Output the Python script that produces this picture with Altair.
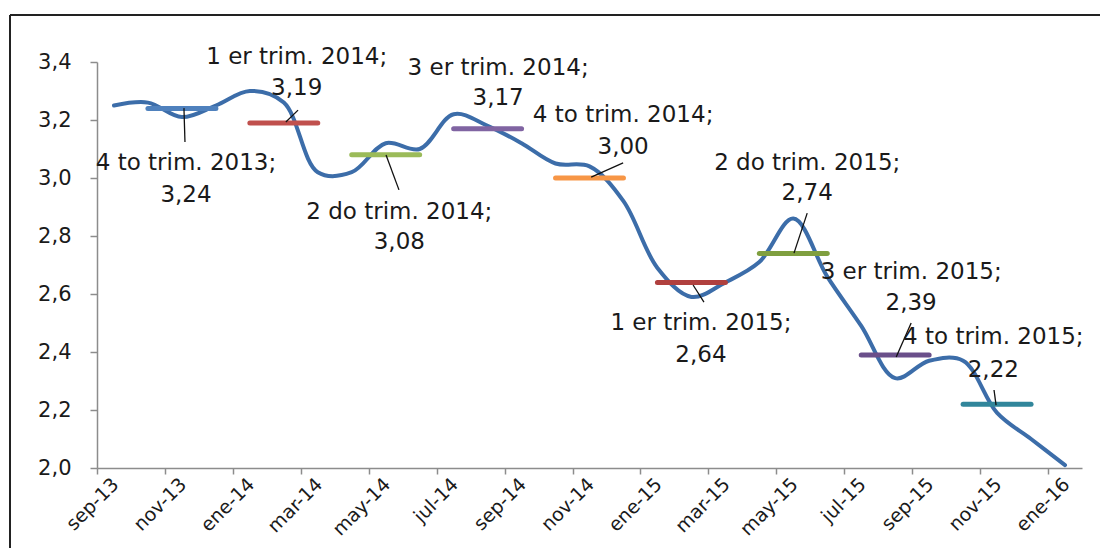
import altair as alt
import pandas as pd

# ---------------- data ----------------
months = ['sep-13', 'oct-13', 'nov-13', 'dic-13', 'ene-14', 'feb-14', 'mar-14',
          'abr-14', 'may-14', 'jun-14', 'jul-14', 'ago-14', 'sep-14', 'oct-14',
          'nov-14', 'dic-14', 'ene-15', 'feb-15', 'mar-15', 'abr-15', 'may-15',
          'jun-15', 'jul-15', 'ago-15', 'sep-15', 'oct-15', 'nov-15', 'dic-15',
          'ene-16']
values = [3.25, 3.26, 3.21, 3.25, 3.30, 3.26, 3.02, 3.02, 3.12, 3.10, 3.22, 3.18,
          3.12, 3.05, 3.04, 2.92, 2.69, 2.59, 2.64, 2.71, 2.86, 2.66, 2.49, 2.31,
          2.37, 2.37, 2.19, 2.10, 2.01]

quarters = ['4 to trim. 2013', '1 er trim. 2014', '2 do trim. 2014', '3 er trim. 2014',
            '4 to trim. 2014', '1 er trim. 2015', '2 do trim. 2015', '3 er trim. 2015',
            '4 to trim. 2015']
quarter_values = [3.24, 3.19, 3.08, 3.17, 3.00, 2.64, 2.74, 2.39, 2.22]
quarter_first_month = ['oct-13', 'ene-14', 'abr-14', 'jul-14', 'oct-14', 'ene-15',
                       'abr-15', 'jul-15', 'oct-15']
quarter_colors = ['#4F81BD', '#C0504D', '#9BBB59', '#8064A2', '#F79646', '#B0403E',
                  '#7F9F3F', '#6A4F8A', '#31869B']

y_ticks = [2.0, 2.2, 2.4, 2.6, 2.8, 3.0, 3.2, 3.4]

# label placement (in data units: month index, value) for each quarter annotation
label_x = [2.12, 5.38, 8.40, 11.31, 14.99, 17.28, 20.41, 23.47, 25.89]
label_y1 = [3.052, 3.417, 2.883, 3.379, 3.217, 2.500, 3.052, 2.676, 2.452]
label_y2 = [2.941, 3.310, 2.779, 3.276, 3.107, 2.390, 2.948, 2.569, 2.338]
leader_x = [2.06, 5.06, 8.01, None, 14.05, 17.05, 20.02, 23.03, 25.97]
leader_x2 = [2.09, 5.42, 8.39, None, 14.99, 17.37, 20.41, 23.47, 25.91]
leader_y = [3.241, 3.193, 3.079, None, 3.003, 2.631, 2.741, 2.383, 2.217]
leader_y2 = [3.124, 3.234, 2.959, None, 3.052, 2.572, 2.879, 2.500, 2.269]

# ---------------- tables ----------------
line_df = pd.DataFrame({'i': list(range(len(months))), 'mes': months, 'valor': values})

seg_rows = []
for q, v, m, c in zip(quarters, quarter_values, quarter_first_month, quarter_colors):
    s = months.index(m)
    seg_rows.append({'trim': q, 'valor': v, 'x0': s, 'x1': s + 2, 'color': c})
seg_df = pd.DataFrame(seg_rows)

lab_rows = []
for q, v, lx, y1, y2 in zip(quarters, quarter_values, label_x, label_y1, label_y2):
    lab_rows.append({'x': lx, 'y': y1, 't': q + ';'})
    lab_rows.append({'x': lx, 'y': y2, 't': ('%.2f' % v).replace('.', ',')})
lab_df = pd.DataFrame(lab_rows)

lead_rows = []
for a, b, c, d in zip(leader_x, leader_x2, leader_y, leader_y2):
    if a is not None:
        lead_rows.append({'x': a, 'x2': b, 'y': c, 'y2': d})
lead_df = pd.DataFrame(lead_rows)

FONT = 'DejaVu Sans'
W, H = 985, 406
PAD_L, PAD_T, PAD_R, PAD_B = 89, 54, 18, 80

label_array = '[' + ','.join("'%s'" % m for m in months) + ']'
x_scale = alt.Scale(domain=[-0.5, len(months) - 0.5], nice=False, zero=False)
y_scale = alt.Scale(domain=[2.0, 3.4], nice=False, zero=False)

x_axis = alt.Axis(
    values=[k - 0.5 for k in range(0, len(months), 2)],
    labelExpr=label_array + '[datum.value + 0.5]',
    labelAngle=-45, labelAlign='right', labelBaseline='middle',
    labelOffset=W / len(months) / 2 + 1, labelPadding=7,
    labelFont=FONT, labelFontSize=19, labelColor='#1a1a1a',
    domainColor='#8c8c8c', domainWidth=1.5, tickColor='#8c8c8c', tickWidth=1.5,
    tickSize=6, title=None, grid=False, labelOverlap=False, labelBound=False,
    labelFlush=False,
)
y_axis = alt.Axis(
    values=y_ticks,
    labelExpr="replace(format(datum.value, '.1f'), '.', ',')",
    labelFont=FONT, labelFontSize=21, labelColor='#1a1a1a', labelPadding=19,
    domainColor='#8c8c8c', domainWidth=1.5, tickColor='#8c8c8c', tickWidth=1.5,
    tickSize=7, title=None, grid=False,
)

base_line = alt.Chart(line_df).mark_line(
    interpolate='catmull-rom', color='#3C6DA9', strokeWidth=4, strokeCap='round'
).encode(
    x=alt.X('i:Q', scale=x_scale, axis=x_axis),
    y=alt.Y('valor:Q', scale=y_scale, axis=y_axis),
)

segments = alt.Chart(seg_df).mark_rule(strokeWidth=5, strokeCap='round').encode(
    x=alt.X('x0:Q', scale=x_scale),
    x2='x1:Q',
    y=alt.Y('valor:Q', scale=y_scale),
    color=alt.Color('color:N', scale=None),
)

leaders = alt.Chart(lead_df).mark_rule(color='#111111', strokeWidth=1.3).encode(
    x=alt.X('x:Q', scale=x_scale), x2='x2:Q',
    y=alt.Y('y:Q', scale=y_scale), y2='y2:Q',
)

labels = alt.Chart(lab_df).mark_text(
    font=FONT, fontSize=23, color='#1a1a1a', align='center', baseline='middle'
).encode(
    x=alt.X('x:Q', scale=x_scale),
    y=alt.Y('y:Q', scale=y_scale),
    text='t:N',
)

frame_top = alt.Chart(pd.DataFrame({'k': [0]})).mark_rule(color='#222222', strokeWidth=2).encode(
    x=alt.value(10 - 8 - PAD_L), x2=alt.value(W + PAD_R), y=alt.value(15 - 8 - PAD_T)
)
frame_left = alt.Chart(pd.DataFrame({'k': [0]})).mark_rule(color='#222222', strokeWidth=2).encode(
    x=alt.value(10 - 8 - PAD_L), y=alt.value(15 - 8 - PAD_T), y2=alt.value(H + PAD_B)
)

chart = alt.layer(frame_top, frame_left, base_line, segments, leaders, labels).properties(
    width=W, height=H,
    autosize=alt.AutoSizeParams(type='none'),
    padding={'left': PAD_L, 'top': PAD_T, 'right': PAD_R, 'bottom': PAD_B},
    background='white',
).configure_view(stroke=None)

chart.save('out.html', embed_options={'renderer': 'svg', 'actions': False})
